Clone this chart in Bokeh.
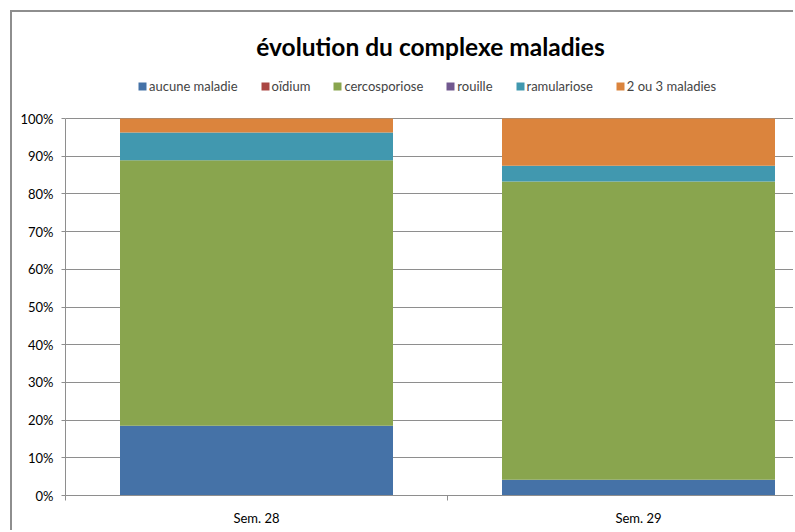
from bokeh.plotting import figure
from bokeh.models import ColumnDataSource, FixedTicker, Legend, Range1d
from bokeh.embed import file_html
from bokeh.resources import INLINE

categories = ["Sem. 28", "Sem. 29"]
series = ["aucune maladie", "oïdium", "cercosporiose", "rouille", "ramulariose", "2 ou 3 maladies"]
aucune_maladie = [18.5, 4.2]
oidium = [0.0, 0.0]
cercosporiose = [70.4, 79.1]
rouille = [0.0, 0.0]
ramulariose = [7.4, 4.2]
deux_ou_trois = [3.7, 12.5]
y_ticks = [0, 10, 20, 30, 40, 50, 60, 70, 80, 90, 100]

colors = ["#4572A7", "#AA4643", "#89A54E", "#71588F", "#4198AF", "#DB843D"]
FONT = "Lato"

keys = ["s0", "s1", "s2", "s3", "s4", "s5"]
data = dict(x=[0.5 + i for i in range(len(categories))])
for k, vals in zip(keys, [aucune_maladie, oidium, cercosporiose, rouille, ramulariose, deux_ou_trois]):
    data[k] = [v / 100.0 for v in vals]
source = ColumnDataSource(data)

# frame: screen x 65..795, y 70..495 (0%..100% spans 118..495)
p = figure(width=783, height=520, output_backend="svg", toolbar_location=None,
           x_range=Range1d(0, 730 / 382), y_range=Range1d(0, 1 + 48 / 377),
           min_border_left=53, min_border_right=0, min_border_top=58, min_border_bottom=37)
p.styles = {"border-left": "2px solid #8e8e8e", "border-top": "2px solid #8e8e8e",
            "margin-left": "10px", "margin-top": "10px"}
p.outline_line_color = None

renderers = p.vbar_stack(keys, x="x", width=273 / 382, source=source, color=colors, line_color=None)

p.title.text = "évolution du complexe maladies"
p.title.text_font = FONT
p.title.text_font_size = "24.5px"
p.title.text_font_style = "bold"
p.title.align = "center"
p.title.text_color = "#000000"
p.title.offset = -12
p.title.standoff = 20

legend = Legend(items=[(s, [r]) for s, r in zip(series, renderers)], orientation="horizontal",
                location=(72, 401), label_text_font=FONT, label_text_font_size="13px",
                glyph_width=10, glyph_height=10, label_standoff=2, spacing=22, padding=4,
                border_line_color=None, background_fill_alpha=0, label_height=12)
p.add_layout(legend, "center")

# y axis
p.yaxis.ticker = FixedTicker(ticks=[t / 100.0 for t in y_ticks])
p.yaxis.bounds = (0, 1)
p.yaxis.major_label_overrides = {t / 100.0: f"{t}%" for t in y_ticks}
p.yaxis.major_label_text_font = FONT
p.yaxis.major_label_text_font_size = "13px"
p.yaxis.major_label_text_color = "#000000"
p.yaxis.axis_line_color = "#8e8e8e"
p.yaxis.major_tick_line_color = "#8e8e8e"
p.yaxis.major_tick_out = 4
p.yaxis.major_tick_in = 0
p.yaxis.minor_tick_line_color = None
p.yaxis.major_label_standoff = 8

# x axis
p.xaxis.ticker = FixedTicker(ticks=[0.5, 1.5], minor_ticks=[0, 1, 2])
p.xaxis.major_label_overrides = {0.5: categories[0], 1.5: categories[1]}
p.xaxis.major_label_text_font = FONT
p.xaxis.major_label_text_font_size = "13px"
p.xaxis.major_label_text_color = "#000000"
p.xaxis.axis_line_color = "#8e8e8e"
p.xaxis.major_tick_line_color = None
p.xaxis.minor_tick_line_color = "#8e8e8e"
p.xaxis.minor_tick_out = 5
p.xaxis.minor_tick_in = 0
p.xaxis.major_label_standoff = 8

p.xgrid.grid_line_color = None
p.ygrid.ticker = FixedTicker(ticks=[t / 100.0 for t in y_ticks])
p.ygrid.grid_line_color = "#8e8e8e"
p.ygrid.level = "underlay"

open("out.html", "w").write(file_html(p, INLINE))
